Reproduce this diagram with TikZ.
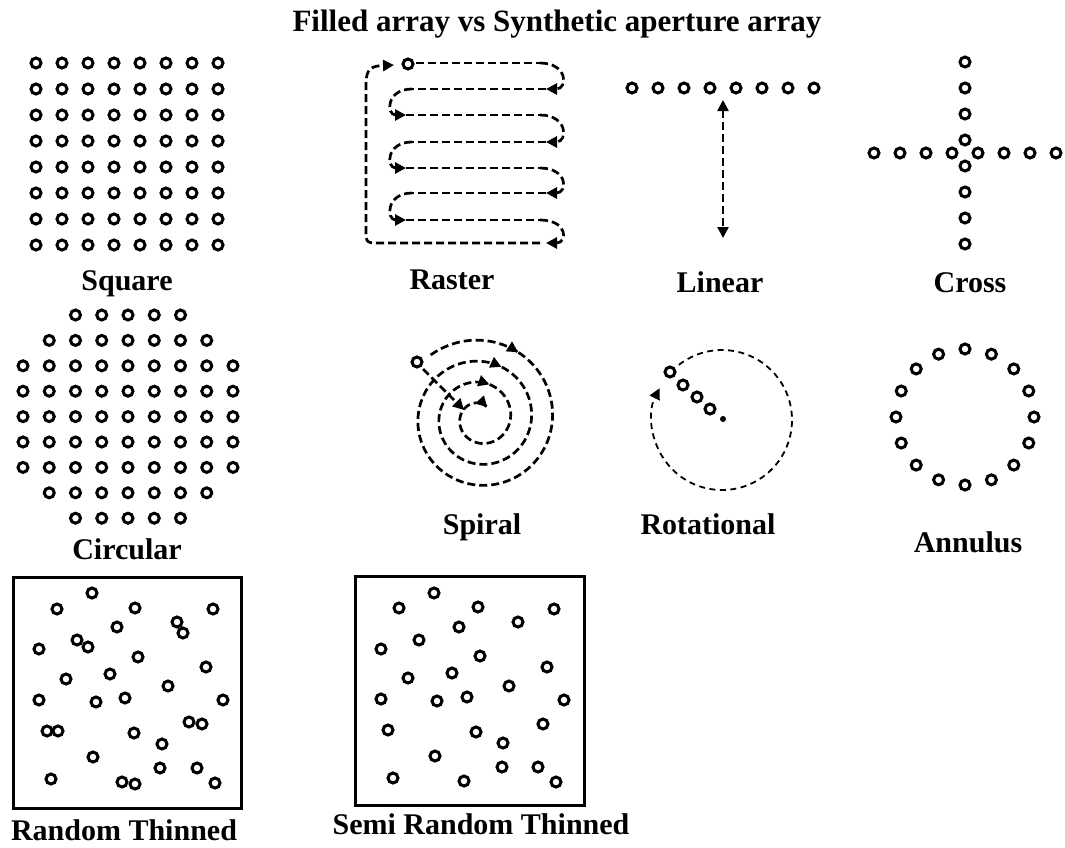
\documentclass[tikz,border=0pt]{standalone}
\usepackage{fontspec}
\setmainfont{Liberation Serif}
\usetikzlibrary{arrows.meta}
\begin{document}
\begin{tikzpicture}[x=1pt,y=-1pt,
  elem/.style={line width=3pt},
  dsh/.style={line width=2.7pt, dash pattern=on 8pt off 4pt},
  thindsh/.style={line width=1.8pt, dash pattern=on 6pt off 4.5pt},
  tip/.style={-{Triangle[length=11pt,width=11pt]}},
  lbl/.style={font=\fontsize{30}{36}\selectfont\bfseries, anchor=base, inner sep=0pt}]
\useasboundingbox (0,0) rectangle (1065,847);

\node[lbl, font=\fontsize{31}{36}\selectfont\bfseries] (title) at (557,31) {Filled array vs Synthetic aperture array};

% Square
\foreach \i in {0,...,7} \foreach \j in {0,...,7}
  \draw[elem] ({36+26*\i},{63+26*\j}) circle[radius=5pt];
\node[lbl] (lsquare) at (127,290) {Square};

% Raster
\draw[elem] (408,64) circle[radius=5pt];
\draw[dsh] (416,63) -- (540,63);
\draw[dsh,tip] (540,63) .. controls (568,63) and (568,89) .. (546,89);
\draw[dsh] (546,89) -- (412,89);
\draw[dsh,tip] (412,89) .. controls (386,89) and (386,115) .. (406,115);
\draw[dsh] (406,115) -- (540,115);
\draw[dsh,tip] (540,115) .. controls (568,115) and (568,142) .. (546,142);
\draw[dsh] (546,142) -- (412,142);
\draw[dsh,tip] (412,142) .. controls (386,142) and (386,168) .. (406,168);
\draw[dsh] (406,168) -- (540,168);
\draw[dsh,tip] (540,168) .. controls (568,168) and (568,193) .. (546,193);
\draw[dsh] (546,193) -- (412,193);
\draw[dsh,tip] (412,193) .. controls (386,193) and (386,220) .. (406,220);
\draw[dsh] (406,220) -- (540,220);
\draw[dsh,tip] (540,220) .. controls (568,220) and (568,243) .. (546,243);
\draw[dsh,tip] (540,243) -- (380,243) .. controls (366,243) and (366,243) .. (366,229)
  -- (366,84) .. controls (366,68) and (372,66) .. (394,65);
\node[lbl] (lraster) at (452,289) {Raster};

% Linear
\foreach \i in {0,...,7}
  \draw[elem] ({632+26*\i},88) circle[radius=5pt];
\draw[dsh, line width=2.4pt, {Triangle[length=11pt,width=11pt]}-{Triangle[length=11pt,width=11pt]}] (723,100) -- (723,238);
\node[lbl] (llinear) at (720,292) {Linear};

% Cross
\foreach \d in {-91,-65,-39,-13,13,39,65,91} {
  \draw[elem] ({965+\d},153) circle[radius=5pt];
  \draw[elem] (965,{153+\d}) circle[radius=5pt];
}
\node[lbl] (lcross) at (970,292) {Cross};

% Circular
\foreach \n [count=\k from 0] in {5,7,9,9,9,9,9,7,5} {
  \foreach \c in {1,...,\n}
    \draw[elem] ({128+26.25*(\c-(\n+1)/2)},{315+25.4*\k}) circle[radius=5pt];
}
\node[lbl] (lcircular) at (127,559) {Circular};

% Spiral
\draw[elem] (417,362) circle[radius=5pt];
\foreach \a/\b in {0/0.19, 0.19/1.17, 1.17/2.15, 2.15/3.2}
  \draw[dsh,tip] plot[domain=\a:\b, samples=80, smooth, variable=\t]
    ({480+(80-21*\t)*cos(128-360*\t)},{418-(80-21*\t)*sin(128-360*\t)});
\draw[dsh,tip] (423,369) -- (464,410);
\node[lbl] (lspiral) at (482,534) {Spiral};

% Rotational
\foreach \p in {(670,372),(683,385),(697,397),(710,409)}
  \draw[elem] \p circle[radius=5pt];
\fill (723,419) circle[radius=3pt];
\draw[thindsh,tip] (722,420) ++(-128:70) arc[start angle=-128, end angle=207, radius=70];
\node[lbl] (lrot) at (708,534) {Rotational};

% Annulus
\foreach \k in {0,...,15}
  \draw[elem] ({965+69*cos(22.5*\k)},{417-68*sin(22.5*\k)}) circle[radius=5pt];
\node[lbl] (lannulus) at (968,552) {Annulus};

% Random thinned
\draw[line width=3pt] (13,577) rectangle (241,808);
\foreach \p in {(92,593),(57,609),(135,608),(213,609),(117,627),(177,622),(183,633),
  (39,649),(77,640),(88,647),(138,657),(206,667),(66,679),(110,674),(168,686),
  (39,700),(96,702),(125,698),(223,700),(47,731),(58,731),(134,733),(189,722),
  (202,724),(162,744),(93,757),(51,779),(122,782),(135,784),(160,768),(197,768),(215,783)}
  \draw[elem] \p circle[radius=5pt];
\node[lbl] (lrandom) at (124,840) {Random Thinned};

% Semi random thinned
\draw[line width=3pt] (355,576) rectangle (584,805);
\foreach \p in {(434,593),(399,608),(478,607),(554,609),(459,627),(518,622),(419,640),
  (381,649),(480,656),(547,667),(408,678),(452,673),(509,686),(381,699),(437,701),
  (467,697),(564,700),(388,730),(476,732),(543,724),(503,743),(435,756),(393,778),
  (464,781),(502,767),(538,767),(556,782)}
  \draw[elem] \p circle[radius=5pt];
\node[lbl] (lsemi) at (481,834) {Semi Random Thinned};
\end{tikzpicture}
\end{document}
